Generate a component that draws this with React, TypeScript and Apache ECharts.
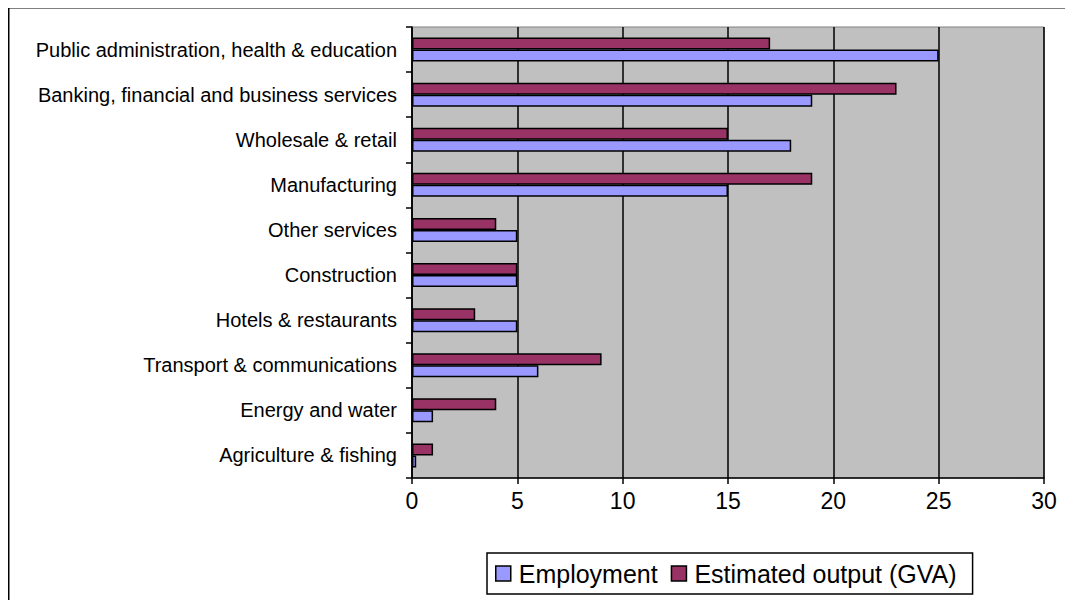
import React, { useEffect, useRef } from "react";
import * as echarts from "echarts";

const categories = [
  "Agriculture & fishing",
  "Energy and water",
  "Transport & communications",
  "Hotels & restaurants",
  "Construction",
  "Other services",
  "Manufacturing",
  "Wholesale & retail",
  "Banking, financial and business services",
  "Public administration, health & education",
];
const employment = [0.2, 1, 6, 5, 5, 5, 15, 18, 19, 25];
const gva = [1, 4, 9, 3, 5, 4, 19, 15, 23, 17];
const xTicks = { min: 0, max: 30, interval: 5 };

export default function App() {
  const ref = useRef<HTMLDivElement>(null);
  useEffect(() => {
    if (!ref.current) return;
    const chart = echarts.init(ref.current, null, { renderer: "svg" });
    const font = "'Liberation Sans', Arial, sans-serif";
    chart.setOption({
      animation: false,
      textStyle: { fontFamily: font },
      graphic: [
        {
          type: "rect",
          shape: { x: 0.75, y: 0.75, width: 1200, height: 800 },
          style: { fill: "none", stroke: "#000", lineWidth: 1.5 },
          silent: true,
        },
      ],
      grid: {
        left: 404,
        top: 20,
        right: 29,
        bottom: 122,
        show: true,
        backgroundColor: "#C0C0C0",
        borderColor: "#808080",
        borderWidth: 1,
      },
      legend: {
        left: 479,
        top: 546,
        orient: "horizontal",
        backgroundColor: "#fff",
        borderColor: "#000",
        borderWidth: 1.5,
        borderRadius: 0,
        padding: [8, 16, 8, 8],
        itemGap: 13,
        itemWidth: 15,
        itemHeight: 15,
        textStyle: { fontSize: 25, color: "#000", fontFamily: font, padding: [0, 0, 0, 3] },
        data: [
          { name: "Employment", icon: "rect", itemStyle: { borderColor: "#000", borderWidth: 1.5 } },
          { name: "Estimated output (GVA)", icon: "rect", itemStyle: { borderColor: "#000", borderWidth: 1.5 } },
        ],
      },
      xAxis: {
        type: "value",
        min: xTicks.min,
        max: xTicks.max,
        interval: xTicks.interval,
        axisLine: { show: true, lineStyle: { color: "#000", width: 1.5 } },
        axisTick: { show: true, length: 6, lineStyle: { color: "#000", width: 1.5 } },
        axisLabel: { fontSize: 23, color: "#000", margin: 11, fontFamily: font },
        splitLine: { show: true, lineStyle: { color: "#000", width: 1.5 } },
      },
      yAxis: {
        type: "category",
        data: categories,
        axisLine: { show: true, lineStyle: { color: "#000", width: 1.5 } },
        axisTick: { show: true, length: 6, lineStyle: { color: "#000", width: 1.5 } },
        axisLabel: { fontSize: 20, color: "#000", margin: 15, fontFamily: font },
        splitLine: { show: false },
      },
      series: [
        {
          name: "Estimated output (GVA)",
          type: "bar",
          data: gva,
          barWidth: 12,
          barGap: "0%",
          itemStyle: { color: "#993366", borderColor: "#000", borderWidth: 1.5 },
        },
        {
          name: "Employment",
          type: "bar",
          data: employment,
          barWidth: 12,
          barGap: "0%",
          itemStyle: { color: "#9999FF", borderColor: "#000", borderWidth: 1.5 },
        },
      ],
    });
    return () => chart.dispose();
  }, []);
  return <div ref={ref} style={{ width: 1065, height: 593, marginTop: -1 }} />;
}
